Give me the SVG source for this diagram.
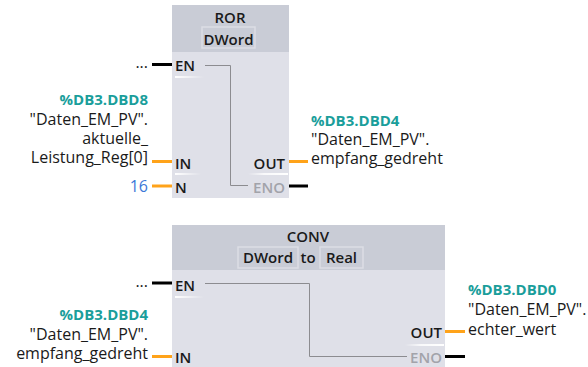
<svg xmlns="http://www.w3.org/2000/svg" width="588" height="367" viewBox="0 0 588 367">
<defs>
<linearGradient id="fadeR" x1="0" y1="0" x2="1" y2="0"><stop offset="0" stop-color="#ffffff" stop-opacity="1"/><stop offset="1" stop-color="#ffffff" stop-opacity="0"/></linearGradient>
<linearGradient id="fadeL" x1="0" y1="0" x2="1" y2="0"><stop offset="0" stop-color="#ffffff" stop-opacity="0"/><stop offset="0.4" stop-color="#ffffff" stop-opacity="0.8"/><stop offset="1" stop-color="#ffffff" stop-opacity="1"/></linearGradient>
<style>
text{font-family:"Open Sans","Noto Sans","Liberation Sans",sans-serif;font-size:15px;fill:#1a1a1a}
.lbl{font-size:16px}
.hdr{font-weight:600;text-anchor:middle}
.pin{font-weight:600}
.eno{fill:#a2a3aa}
.addr{font-weight:700;fill:#1a9e9b}
.r{text-anchor:end}
.num{fill:#3b78d8;font-size:16px}
.body{fill:#dfe0e8}
.head{fill:#c9ccd6}
.tbox{fill:#c9ccd6;stroke:#dcdde5;stroke-width:1.5}
.wire{stroke-width:3;fill:none}
.bool{stroke:#000000}
.data{stroke:#ffa31a}
.inner{stroke:#8c8c90;stroke-width:1;fill:none}
</style>
</defs>
<rect width="588" height="367" fill="#ffffff"/>

<g id="ror">
<rect class="body" x="172" y="5" width="117" height="193"/>
<rect class="head" x="172" y="5" width="117" height="47"/>
<text class="hdr" x="230" y="23">ROR</text>
<rect class="tbox" x="202" y="27" width="53" height="21"/>
<text class="hdr" x="228.5" y="44.5">DWord</text>
<text class="pin" x="175" y="70.5">EN</text>
<rect x="175" y="76" width="29" height="2" fill="url(#fadeR)"/>
<text class="pin" x="175" y="169">IN</text>
<rect x="175" y="173" width="26" height="2" fill="url(#fadeR)"/>
<text class="pin" x="175" y="193">N</text>
<text class="pin r" x="285" y="169">OUT</text>
<rect x="248" y="173" width="40" height="2" fill="url(#fadeL)"/>
<text class="pin eno r" x="285" y="193">ENO</text>
</g>

<g id="conv">
<rect class="body" x="172" y="225" width="273" height="142"/>
<rect class="head" x="172" y="225" width="273" height="45"/>
<text class="hdr" x="308" y="241.5">CONV</text>
<rect class="tbox" x="238" y="247" width="60" height="21"/>
<text class="hdr" x="268" y="263">DWord</text>
<text class="hdr" x="308" y="263">to</text>
<rect class="tbox" x="320" y="247" width="43" height="21"/>
<text class="hdr" x="341.5" y="263">Real</text>
<text class="pin" x="175" y="290.5">EN</text>
<rect x="175" y="296" width="29" height="2" fill="url(#fadeR)"/>
<text class="pin" x="175" y="363">IN</text>
<text class="pin r" x="442" y="337.5">OUT</text>
<rect x="405" y="344" width="39" height="2" fill="url(#fadeL)"/>
<text class="pin eno r" x="442" y="363">ENO</text>
</g>

<g id="labels">
<text class="lbl r" x="148" y="68">...</text>
<text class="addr r" x="148" y="105">%DB3.DBD8</text>
<text class="lbl r" x="148" y="124.5">"Daten_EM_PV".</text>
<text class="lbl r" x="148" y="143.5">aktuelle_</text>
<text class="lbl r" x="148" y="163">Leistung_Reg[0]</text>
<text class="r num" x="148" y="191.5">16</text>
<text class="addr" x="311" y="125.5">%DB3.DBD4</text>
<text class="lbl" x="311" y="145">"Daten_EM_PV".</text>
<text class="lbl" x="311" y="164">empfang_gedreht</text>

<text class="lbl r" x="148" y="286.5">...</text>
<text class="addr r" x="148" y="320">%DB3.DBD4</text>
<text class="lbl r" x="148" y="339.5">"Daten_EM_PV".</text>
<text class="lbl r" x="148" y="359">empfang_gedreht</text>
<text class="addr" x="468" y="295">%DB3.DBD0</text>
<text class="lbl" x="468" y="315">"Daten_EM_PV".</text>
<text class="lbl" x="468" y="334.5">echter_wert</text>
</g>

<g id="connectors">
<line class="wire bool" x1="152" y1="64.5" x2="172" y2="64.5"/>
<line class="wire data" x1="152" y1="161.5" x2="172" y2="161.5"/>
<line class="wire data" x1="152" y1="186" x2="172" y2="186"/>
<line class="wire data" x1="289" y1="161.5" x2="308" y2="161.5"/>
<line class="wire bool" x1="289" y1="186" x2="308" y2="186"/>
<polyline class="inner" points="205,65.5 230.5,65.5 230.5,185.5 248,185.5"/>

<line class="wire bool" x1="152" y1="283" x2="172" y2="283"/>
<line class="wire data" x1="152" y1="356.5" x2="172" y2="356.5"/>
<line class="wire data" x1="445" y1="331.5" x2="465" y2="331.5"/>
<line class="wire bool" x1="445" y1="356.5" x2="465" y2="356.5"/>
<polyline class="inner" points="205,283.5 309.5,283.5 309.5,356.5 407,356.5"/>
</g>
</svg>
